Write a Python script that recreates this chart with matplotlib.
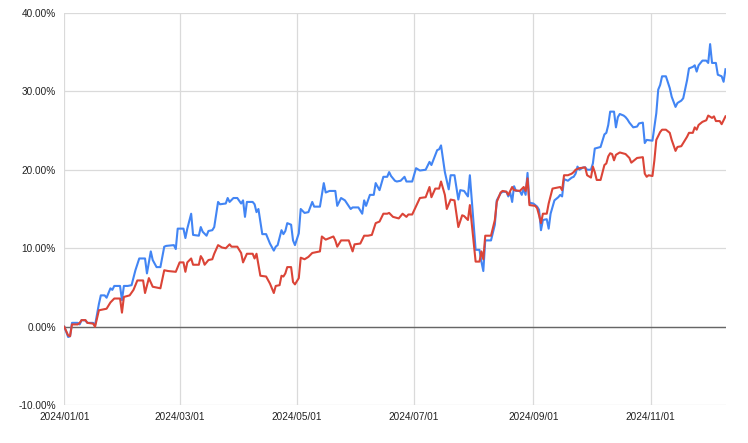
import matplotlib
matplotlib.use("Agg")
import matplotlib.pyplot as plt
import matplotlib.dates as mdates
import numpy as np

plt.rcParams['font.family'] = ['Liberation Sans', 'DejaVu Sans']

# days since 2024/01/01 and cumulative return in %
blue_days = [0, 2, 3, 4, 7, 8, 9, 11, 12, 15, 16, 18, 19, 21, 22, 24, 25, 26, 29, 30,
             31, 33, 35, 37, 39, 42, 43, 45, 46, 48, 50, 52, 53, 57, 58, 59, 62, 63, 64, 66,
             67, 70, 71, 72, 74, 75, 77, 78, 80, 81, 84, 85, 86, 88, 90, 92, 93, 94, 95, 98,
             99, 100, 101, 103, 105, 107, 109, 110, 111, 113, 114, 115, 116, 118, 119, 120, 122, 123, 125, 127,
             129, 130, 133, 135, 136, 138, 141, 142, 144, 146, 149, 150, 153, 155, 156, 157, 159, 161, 162, 164,
             166, 168, 169, 170, 172, 173, 175, 177, 178, 181, 183, 185, 188, 190, 191, 194, 195, 196, 198, 200,
             201, 203, 205, 206, 208, 210, 211, 214, 216, 217, 218, 219, 222, 224, 225, 227, 228, 230, 231, 232,
             233, 234, 235, 237, 238, 239, 240, 241, 242, 244, 246, 247, 248, 249, 251, 252, 253, 255, 257, 258,
             259, 260, 262, 264, 265, 266, 267, 268, 270, 271, 272, 274, 275, 276, 279, 281, 282, 283, 284, 286,
             287, 288, 289, 291, 292, 293, 294, 295, 296, 298, 299, 301, 302, 303, 306, 308, 309, 310, 311, 313,
             315, 316, 318, 319, 321, 322, 324, 325, 327, 328, 329, 330, 332, 334, 335, 336, 337, 339, 340, 342,
             343, 344]
blue_vals = [0, -1.3, -1.2, 0.5, 0.5, 0.3, 0.85, 0.8, 0.5, 0.5, 0.2, 2.9, 4.0, 4.0, 3.7, 4.9, 4.7, 5.2, 5.2, 3.4,
             5.2, 5.2, 5.3, 7.2, 8.7, 8.7, 6.8, 9.6, 8.5, 7.6, 7.6, 10.2, 10.3, 10.4, 9.9, 12.5, 12.5, 11.3, 12.5, 14.4,
             11.7, 11.6, 12.7, 12.1, 11.6, 12.2, 12.3, 12.7, 15.9, 15.6, 15.7, 16.4, 15.9, 16.4, 16.4, 15.7, 16.1, 14.0, 15.9, 15.9,
             15.6, 14.6, 15.0, 11.8, 11.8, 10.6, 9.7, 10.2, 10.4, 12.3, 11.8, 12.2, 13.2, 13.0, 11.0, 10.4, 11.9, 15.0, 14.5, 14.6,
             15.9, 15.3, 15.3, 18.3, 17.1, 17.3, 17.3, 15.4, 16.4, 16.1, 15.0, 15.2, 15.2, 14.4, 16.1, 15.4, 16.8, 16.8, 18.3, 17.4,
             19.1, 19.1, 19.7, 19.2, 18.6, 18.5, 18.6, 19.1, 18.5, 18.5, 20.2, 19.9, 20.0, 21.0, 20.6, 22.5, 22.6, 23.1, 19.7, 17.5,
             19.3, 19.3, 16.2, 17.4, 17.3, 16.6, 19.3, 9.8, 9.8, 8.3, 7.1, 11.0, 11.0, 13.0, 16.1, 17.0, 17.2, 17.2, 16.6, 17.1,
             15.9, 17.9, 17.3, 17.3, 16.8, 17.6, 16.8, 19.6, 15.8, 15.7, 15.3, 14.9, 12.3, 13.6, 13.7, 12.5, 14.4, 16.1, 16.5, 16.8,
             16.6, 18.8, 18.6, 19.0, 19.1, 19.5, 20.4, 20.0, 20.3, 20.3, 20.0, 20.0, 20.8, 22.7, 22.9, 24.5, 24.7, 25.7, 27.4, 27.4,
             25.4, 26.7, 27.1, 26.9, 26.7, 26.4, 26.0, 25.7, 25.4, 25.5, 25.9, 26.0, 23.4, 23.8, 23.7, 27.2, 30.2, 30.8, 31.9, 31.9,
             30.4, 29.3, 28.0, 28.5, 28.8, 29.1, 31.4, 32.9, 33.1, 33.3, 32.5, 33.3, 33.9, 33.9, 33.6, 36.0, 33.6, 33.6, 32.1, 31.9,
             31.2, 32.8]

red_days = [0, 2, 3, 4, 7, 8, 9, 11, 12, 15, 16, 18, 20, 22, 24, 26, 29, 30, 31, 34,
            36, 38, 41, 42, 44, 46, 50, 52, 54, 58, 60, 62, 63, 64, 66, 67, 70, 71, 72, 73,
            75, 77, 78, 80, 82, 84, 86, 87, 90, 92, 93, 95, 98, 99, 100, 102, 105, 107, 109, 110,
            112, 113, 114, 115, 116, 118, 119, 120, 122, 123, 125, 127, 129, 133, 134, 136, 140, 141, 142, 144,
            148, 150, 151, 154, 156, 158, 160, 162, 164, 166, 168, 169, 171, 174, 176, 178, 179, 181, 185, 188,
            190, 191, 193, 195, 196, 198, 199, 201, 203, 205, 207, 208, 210, 211, 214, 216, 217, 218, 219, 222,
            224, 225, 227, 228, 230, 231, 232, 233, 234, 237, 239, 240, 241, 242, 245, 246, 247, 248, 249, 251,
            252, 254, 258, 259, 260, 262, 264, 265, 266, 268, 271, 272, 274, 275, 276, 277, 279, 281, 282, 283,
            284, 285, 286, 287, 289, 292, 294, 295, 296, 298, 301, 302, 303, 304, 306, 307, 308, 310, 311, 313,
            315, 316, 318, 319, 321, 323, 324, 325, 327, 328, 329, 330, 332, 334, 335, 337, 338, 339, 341, 342,
            344]
red_vals = [0, -1.1, -1.2, 0.3, 0.3, 0.5, 0.85, 0.85, 0.5, 0.4, 0.0, 2.1, 2.2, 2.3, 3.1, 3.6, 3.6, 1.8, 3.8, 4.0,
            4.7, 5.9, 5.9, 4.3, 6.2, 5.1, 4.9, 7.2, 7.1, 7.0, 8.2, 8.2, 7.0, 8.2, 8.7, 7.9, 7.9, 9.0, 8.6, 7.9,
            8.5, 8.6, 9.3, 10.4, 10.1, 10.0, 10.5, 10.2, 10.2, 9.4, 8.2, 9.3, 9.3, 8.7, 9.3, 6.5, 6.4, 5.5, 4.3, 5.2,
            5.3, 6.5, 6.4, 6.8, 7.6, 7.6, 5.7, 5.4, 6.2, 8.8, 8.6, 8.9, 9.4, 9.6, 11.5, 11.1, 11.5, 11.0, 10.2, 11.0,
            11.0, 9.6, 10.5, 10.6, 11.6, 11.6, 11.7, 13.2, 13.4, 14.4, 14.4, 14.5, 14.0, 13.8, 14.4, 14.0, 14.3, 14.3, 16.4, 16.5,
            17.8, 16.5, 17.6, 17.6, 18.5, 16.8, 15.0, 16.2, 16.1, 12.7, 14.2, 14.1, 13.6, 15.5, 8.3, 8.3, 9.6, 8.6, 11.6, 11.6,
            13.6, 15.9, 17.1, 17.3, 17.2, 16.8, 17.3, 17.8, 17.4, 17.3, 17.8, 17.3, 18.9, 15.5, 15.4, 15.1, 14.2, 13.2, 14.4, 14.4,
            15.7, 17.6, 17.8, 17.4, 19.3, 19.3, 19.5, 19.7, 20.0, 20.2, 20.3, 19.3, 19.0, 20.4, 19.7, 18.7, 18.7, 20.6, 20.8, 21.7,
            22.1, 22.0, 21.2, 21.9, 22.2, 22.0, 21.5, 20.9, 21.1, 21.5, 21.6, 19.5, 19.1, 19.3, 19.2, 21.2, 23.8, 24.8, 25.1, 25.1,
            24.7, 23.8, 22.4, 22.9, 23.0, 23.8, 24.2, 24.7, 24.7, 25.4, 25.1, 25.7, 26.1, 26.3, 26.9, 26.6, 26.8, 26.2, 26.2, 25.8,
            26.8]

x_ticks = ['2024-01-01', '2024-03-01', '2024-05-01', '2024-07-01', '2024-09-01', '2024-11-01']
y_ticks = [-10, 0, 10, 20, 30, 40]

start = np.datetime64('2024-01-01')
blue_dates = start + np.array(blue_days).astype('timedelta64[D]')
red_dates = start + np.array(red_days).astype('timedelta64[D]')

fig = plt.figure(figsize=(7.48, 4.43), dpi=100)
ax = fig.add_axes([64.3 / 748, 1 - 405.3 / 443, (725.5 - 64.3) / 748, (405.3 - 12.7) / 443])

ax.plot(blue_dates, blue_vals, color='#4285F4', lw=1.5, zorder=3)
ax.plot(red_dates, red_vals, color='#DB4437', lw=1.5, zorder=4)
ax.axhline(0, color='#666666', lw=1.0, zorder=2)

ax.set_xlim(start, blue_dates[-1])
ax.set_ylim(-10, 40)

ax.set_xticks([np.datetime64(d) for d in x_ticks])
ax.xaxis.set_major_formatter(mdates.DateFormatter('%Y/%m/%d'))
ax.set_yticks(y_ticks)
ax.set_yticklabels([f"{v:.2f}%" for v in y_ticks])

ax.grid(True, color='#dadada', lw=0.9, zorder=0)
ax.set_axisbelow(True)
for s in ax.spines.values():
    s.set_visible(False)
ax.tick_params(length=0, labelsize=7.2, colors='#222222')
ax.tick_params(axis='y', pad=6)
ax.tick_params(axis='x', pad=5)

fig.savefig("out.png", dpi=100)
